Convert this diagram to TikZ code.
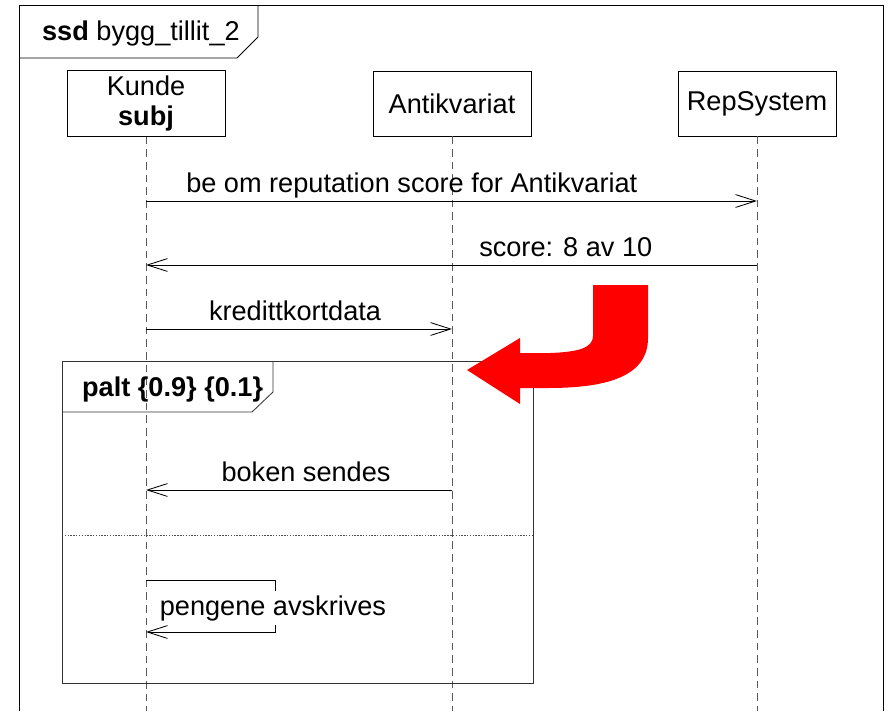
\documentclass[tikz,border=0pt]{standalone}
\usepackage{fontspec}
\setmainfont{Liberation Sans}
\usetikzlibrary{arrows.meta}
\begin{document}
\begin{tikzpicture}[x=0.025cm, y=-0.025cm, line width=0.6pt,
  >={Straight Barb[length=5mm,width=3.2mm]},
  font=\fontsize{19.3}{22}\selectfont,
  life/.style={draw, minimum width=3.95cm, minimum height=1.625cm, align=center},
  lline/.style={black!65, dash pattern=on 5.5pt off 3.5pt},
  lbl/.style={above, text depth=0.22em}]
\useasboundingbox (0,0) rectangle (888,711);
\draw (19,711) -- (19,5) -- (883,5) -- (883,711);
\draw (19,58) -- (237,58) -- (258,37) -- (258,5);
\node[anchor=base west] (title) at (37,40) {\textbf{ssd} bygg\_tillit\_2};
\node[life] (kunde) at (146,103.5) {Kunde\\\textbf{subj}};
\node[life] (anti) at (452,103.5) {Antikvariat};
\node[life] (rep) at (757,103.5) {RepSystem};
\coordinate (bot) at (0,711);
\draw[lline] (kunde) -- (kunde |- bot);
\draw[lline] (anti) -- (anti |- bot);
\draw[lline] (rep) -- (rep |- bot);
\coordinate (r1) at (0,201);
\coordinate (r2) at (0,265);
\coordinate (r3) at (0,329);
\coordinate (r4) at (0,490);
\draw[->] (kunde |- r1) -- node[lbl, pos=0.435] {be om reputation score for Antikvariat} (rep |- r1);
\draw[->] (rep |- r2) -- node[lbl, pos=0.313] {score: 8 av 10} (kunde |- r2);
\draw[->] (kunde |- r3) -- node[lbl, pos=0.487] {kredittkortdata} (anti |- r3);
\draw[black!80] (62,361) rectangle (533,683);
\draw[black!80] (62,412) -- (252,412) -- (273,392) -- (273,361);
\node[anchor=base west] (palt) at (77,396) {\textbf{palt \{0.9\} \{0.1\}}};
\draw[->] (anti |- r4) -- node[lbl, pos=0.477] {boken sendes} (kunde |- r4);
\draw[black!70, dash pattern=on 1pt off 1pt] (62,535) -- (533,535);
\coordinate (s1) at (275,580);
\coordinate (s2) at (275,632);
\draw[->] (kunde |- s1) -- (s1) -- (s2) -- (kunde |- s2);
\node[fill=white, inner xsep=1pt, inner ysep=3pt, anchor=base west] (pay) at (158,615) {pengene avskrives};
\fill[red] (593,285) -- (648,285) -- (648,338) .. controls (648,376) and (608,388) .. (548,388)
  -- (520,388) -- (520,404) -- (467,370) -- (520,338) -- (520,353) -- (550,353)
  .. controls (578,352) and (593,348) .. (593,336) -- cycle;
\end{tikzpicture}
\end{document}
